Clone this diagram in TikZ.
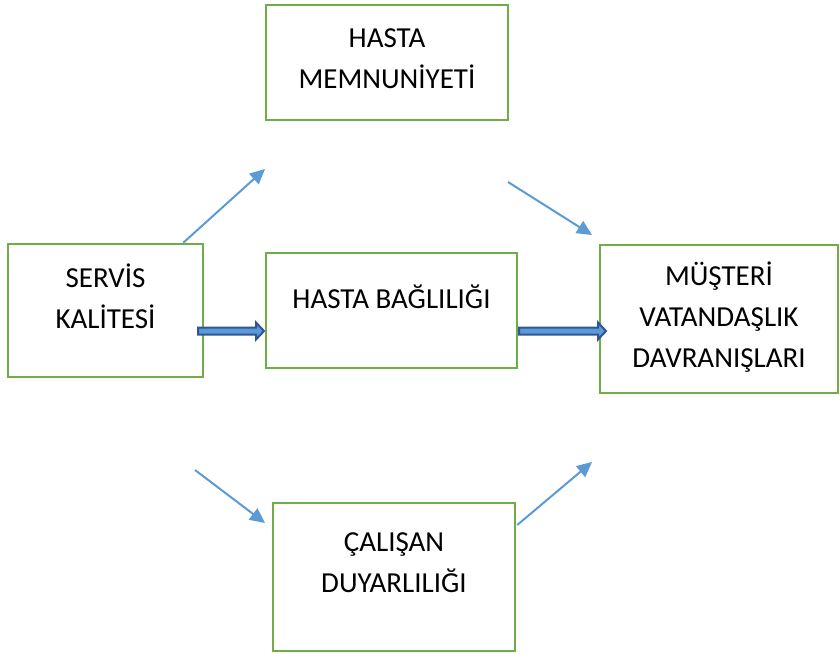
\documentclass[tikz,border=0pt]{standalone}
\usepackage{fontspec}
\setmainfont{Carlito}
\usepackage{xcolor}
\usepackage{tikz}
\usetikzlibrary{arrows.meta}
\usetikzlibrary{calc}
\usetikzlibrary{positioning}

\definecolor{boxgreen}{HTML}{70AD47}
\definecolor{arrblue}{HTML}{5B9BD5}
\definecolor{arrdark}{HTML}{2F5597}

\begin{document}
\begin{tikzpicture}[x=1pt,y=-1pt,>={Triangle[length=15pt,width=14pt]},line join=miter]
 \tikzstyle{kutu}=[draw=boxgreen, line width=2.5pt, inner sep=0pt]
 \tikzstyle{yazi}=[font=\fontsize{29}{41}\selectfont, align=center, inner sep=0pt]
 \tikzstyle{ince}=[->, draw=arrblue, color=arrblue, line width=2pt]
 \tikzstyle{blok}=[draw=arrdark, fill=arrblue, line width=2pt,
   to path={let \p1=(\tikztostart), \p2=(\tikztotarget) in
     (\x1,\y1+3.5pt) -- (\x2-8pt,\y1+3.5pt) -- (\x2-8pt,\y1+8.5pt) -- (\x2,\y1)
     -- (\x2-8pt,\y1-8.5pt) -- (\x2-8pt,\y1-3.5pt) -- (\x1,\y1-3.5pt) -- cycle}]

 \useasboundingbox (0,0) rectangle (840,653);

 % kutular
 \node[kutu, minimum width=242pt, minimum height=115pt] (memn) at (387,62.5) {};
 \node[kutu, minimum width=195pt, minimum height=133pt] (serv) at (105.5,310.5) {};
 \node[kutu, minimum width=251pt, minimum height=115pt] (bag)  at (391.5,310.5) {};
 \node[kutu, minimum width=238pt, minimum height=148pt] (mus)  at (719,319) {};
 \node[kutu, minimum width=242pt, minimum height=148pt] (cal)  at (394,577) {};

 % yazilar
 \node[yazi] (memnT) at (387,58.5)  {HASTA\\MEMNUNİYETİ};
 \node[yazi] (servT) at (105.5,296) {SERVİS\\KALİTESİ};
 \node[yazi] (bagT)  at (391.5,297) {HASTA BAĞLILIĞI};
 \node[yazi] (musT)  at (719,317)   {MÜŞTERİ\\VATANDAŞLIK\\DAVRANIŞLARI};
 \node[yazi] (calT)  at (394,562.5) {ÇALIŞAN\\DUYARLILIĞI};

 % serbest uclar
 \coordinate (u1) at (265,169);
 \coordinate (u2s) at (508,182);
 \coordinate (u2) at (592,235);
 \coordinate (u3s) at (195,470);
 \coordinate (u3) at (265,523);
 \coordinate (u4) at (592,462);
 \coordinate (b1s) at (198,331);
 \coordinate (b1) at (264,331);
 \coordinate (b2s) at (519,331);
 \coordinate (b2) at (606,331);

 \draw[ince] ($(serv.north east)+(-21,0)$) -- (u1);
 \draw[ince] (u2s) -- (u2);
 \draw[ince] (u3s) -- (u3);
 \draw[ince] ($(cal.east)+(1,-52)$) -- (u4);

 \path[blok] (b1s) to (b1);
 \path[blok] (b2s) to (b2);
\end{tikzpicture}
\end{document}
